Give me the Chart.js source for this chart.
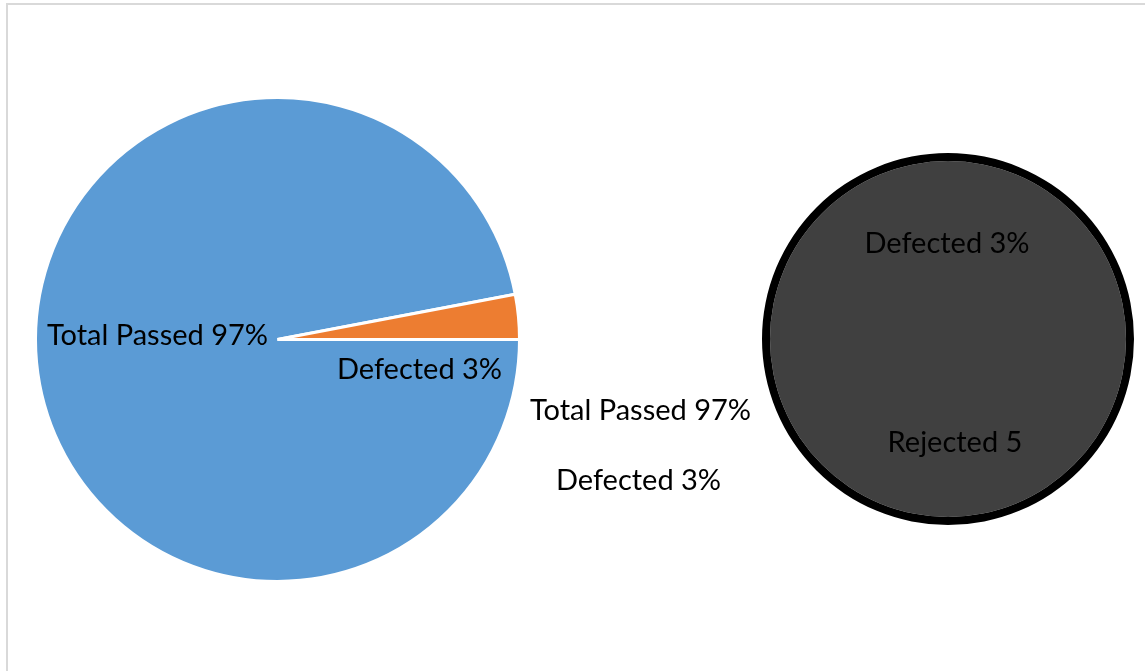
<!DOCTYPE html>
<html>
<head>
    <title>Pie of Pie</title>
    <script src="https://cdn.jsdelivr.net/npm/chart.js"></script>
    <style>
        body { margin: 0; background: #fff; }
        .frame { position: absolute; left: 6px; top: 3px; width: 1200px; height: 700px; border-top: 2px solid #d9d9d9; border-left: 2px solid #d9d9d9; }
        canvas { position: absolute; left: 0; top: 0; }
    </style>
</head>
<body>
    <div class="frame"></div>
    <canvas id="chart-main" width="1145" height="671"></canvas>
    <canvas id="chart-second" width="1145" height="671"></canvas>

    <script>
        // datos del grafico principal
        const categorias = ["Total Passed", "Defected"];
        const porcentajes = [97, 3];
        const coloresMain = ["#5B9BD5", "#ED7D31"];

        // datos del segundo circulo
        const categoriasSec = ["Rejected"];
        const valoresSec = [5];

        const fuente = "29px Lato";

        // etiquetas del pie principal (dx, dy respecto al centro)
        const etiquetasMain = [
            { texto: `${categorias[0]} ${porcentajes[0]}%`, dx: -120, dy: -4 },
            { texto: `${categorias[1]} ${porcentajes[1]}%`, dx: 142, dy: 30 },
            { texto: `${categorias[0]} ${porcentajes[0]}%`, dx: 363, dy: 71 },
            { texto: `${categorias[1]} ${porcentajes[1]}%`, dx: 361, dy: 141 }
        ];
        // etiquetas del segundo circulo
        const etiquetasSec = [
            { texto: `${categorias[1]} ${porcentajes[1]}%`, dx: -1, dy: -95 },
            { texto: `${categoriasSec[0]} ${valoresSec[0]}`, dx: 7, dy: 104 }
        ];

        function pluginEtiquetas(lista) {
            return {
                id: "etiquetas",
                afterDraw(chart) {
                    const meta = chart.getDatasetMeta(0);
                    const arc = meta.data[0];
                    const ctx = chart.ctx;
                    ctx.save();
                    ctx.font = fuente;
                    ctx.fillStyle = "#000";
                    ctx.textAlign = "center";
                    ctx.textBaseline = "middle";
                    lista.forEach(e => ctx.fillText(e.texto, arc.x + e.dx, arc.y + e.dy));
                    ctx.restore();
                }
            };
        }

        new Chart(document.getElementById("chart-main"), {
            type: "pie",
            data: {
                labels: categorias,
                datasets: [{
                    data: porcentajes,
                    backgroundColor: coloresMain,
                    borderColor: "#fff",
                    borderWidth: 3
                }]
            },
            options: {
                responsive: false,
                animation: false,
                rotation: 90,
                layout: { padding: { left: 34, top: 96, right: 624, bottom: 88 } },
                plugins: { legend: { display: false }, tooltip: { enabled: false } }
            },
            plugins: [pluginEtiquetas(etiquetasMain)]
        });

        // el borde negro se hace con un anillo exterior (evita la linea radial)
        new Chart(document.getElementById("chart-second"), {
            type: "pie",
            data: {
                labels: categoriasSec,
                datasets: [{
                    data: valoresSec,
                    backgroundColor: "#000",
                    borderWidth: 0,
                    weight: 8
                }, {
                    data: valoresSec,
                    backgroundColor: "#404040",
                    borderWidth: 0,
                    weight: 178
                }]
            },
            options: {
                responsive: false,
                animation: false,
                layout: { padding: { left: 762, top: 153, right: 11, bottom: 146 } },
                plugins: { legend: { display: false }, tooltip: { enabled: false } }
            },
            plugins: [pluginEtiquetas(etiquetasSec)]
        });
    </script>
</body>
</html>
